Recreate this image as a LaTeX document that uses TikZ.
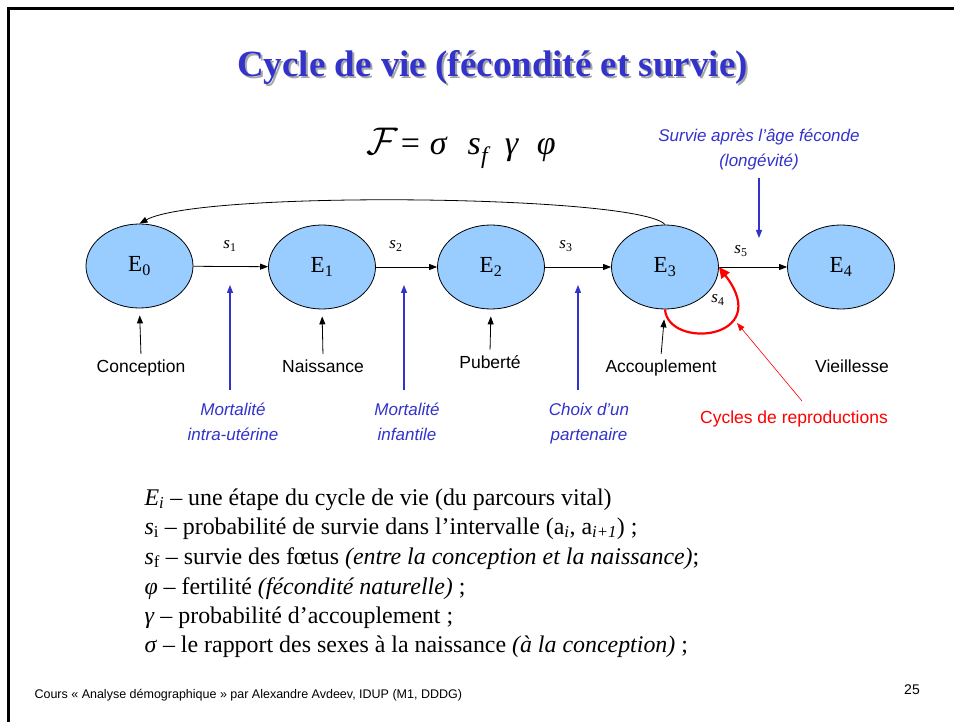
\documentclass[tikz,border=0pt]{standalone}
\usepackage{graphicx}
\usepackage{fontspec}
\setmainfont{Liberation Serif}
\newfontfamily\arial{Liberation Sans}
\usetikzlibrary{arrows.meta,shapes.geometric}
\definecolor{tblue}{RGB}{51,51,204}
\definecolor{efill}{RGB}{153,204,255}
\definecolor{tred}{RGB}{255,0,0}
\newcommand{\ttltext}{Cycle de vie (fécondité et survie)}
\begin{document}
\begin{tikzpicture}[x=1pt,y=-1pt,
  stage/.style={ellipse,draw=black,line width=0.8pt,fill=efill,minimum width=107pt,minimum height=84pt,inner sep=0pt,font=\fontsize{23}{26}\selectfont},
  arr/.style={line width=0.8pt,-{Triangle[length=8pt,width=6pt]}},
  barr/.style={tblue,line width=1.2pt,-{Triangle[length=8pt,width=6pt]}},
  rarr/.style={tred,line width=0.6pt,-{Triangle[length=8pt,width=6pt]}},
  slab/.style={font=\fontsize{17}{20}\selectfont},
  lab/.style={anchor=base,font=\arial\fontsize{17.5}{20}\selectfont},
  blab/.style={tblue,align=center,font=\arial\itshape\fontsize{17}{25}\selectfont},
  item/.style={anchor=base west,font=\fontsize{23.9}{28}\selectfont}]
\useasboundingbox (0,0) rectangle (954,722);
\fill[white] (0,0) rectangle (954,722);
% frame
\draw[line width=3pt] (8.5,722) -- (8.5,8.5) -- (954,8.5);
% title with shadow
\node[font=\bfseries\fontsize{37}{42}\selectfont] (title) at (492.5,68)
  {\makebox[0pt][l]{\hspace{2pt}\raisebox{-2pt}{\textcolor{gray!70}{\ttltext}}}\textcolor{tblue}{\ttltext}};
% formula
\node[anchor=base west,inner sep=0pt,font=\fontsize{34}{38}\selectfont] (formula) at (366,155)
  {\scalebox{1.55}{$\mathcal{F}$}\hspace{3pt}=\hspace{10pt}\textit{σ}\hspace{20pt}\textit{s}\textsubscript{\textit{f}}\hspace{14pt}\textit{γ}\hspace{18pt}\textit{φ}};
% stages
\node[stage] (e0) at (139.5,266) {E\textsubscript{0}};
\node[stage] (e1) at (322,267) {E\textsubscript{1}};
\node[stage] (e2) at (491,267) {E\textsubscript{2}};
\node[stage] (e3) at (665,267) {E\textsubscript{3}};
\node[stage] (e4) at (841,267) {E\textsubscript{4}};
\draw[arr] (e0) -- (e1);
\draw[arr] (e1) -- (e2);
\draw[arr] (e2) -- (e3);
\draw[arr] (e3) -- (e4);
\draw[arr] (e3.north) .. controls (640,195) and (200,190) .. (e0.north);
% s labels
\node[slab] (s1) at (230,246) {\textit{s}\textsubscript{1}};
\node[slab] (s2) at (396,246) {\textit{s}\textsubscript{2}};
\node[slab] (s3) at (566,246) {\textit{s}\textsubscript{3}};
\node[slab] (s5) at (741,251) {\textit{s}\textsubscript{5}};
\node[slab] (s4) at (718,300) {\textit{s}\textsubscript{4}};
% event labels
\node[lab] (conc) at (141,372) {Conception};
\node[lab] (nais) at (323,372) {Naissance};
\node[lab] (pub) at (490,368) {Puberté};
\node[lab] (acc) at (661,372) {Accouplement};
\node[lab] (vie) at (852,372) {Vieillesse};
\draw[arr,shorten >=7pt,shorten <=2pt] (conc.north) -- (e0.south);
\draw[arr,shorten >=7pt,shorten <=2pt] (nais.north) -- (e1.south);
\draw[arr,shorten >=7pt,shorten <=2pt] (pub.north) -- (e2.south);
\draw[arr,shorten >=10pt,shorten <=2pt] (acc.north) -- (e3.south);
% blue labels
\node[blab] (m1) at (233,423) {\strut Mortalité\\\strut intra-utérine};
\node[blab] (m2) at (407,423) {\strut Mortalité\\\strut infantile};
\node[blab] (m3) at (589,423) {\strut Choix d’un\\\strut partenaire};
\node[blab] (sv) at (759,149) {\strut Survie après l’âge féconde\\\strut (longévité)};
\coordinate (m1a) at (230,390); \coordinate (m1b) at (230,285);
\coordinate (m2a) at (404,390); \coordinate (m2b) at (404,285);
\coordinate (m3a) at (578,390); \coordinate (m3b) at (578,285);
\coordinate (sva) at (759,178); \coordinate (svb) at (759,238);
\draw[barr] (m1a) -- (m1b);
\draw[barr] (m2a) -- (m2b);
\draw[barr] (m3a) -- (m3b);
\draw[barr] (sva) -- (svb);
% reproduction loop
\draw[tred,line width=2.2pt,-{Triangle[length=11pt,width=10pt]}] (e3.south) .. controls (668,350) and (775,340) .. (e3.east);
\node[text=tred,font=\arial\fontsize{17.5}{20}\selectfont] (cyc) at (794,419) {Cycles de reproductions};
\coordinate (cyct) at (802,401);
\coordinate (cych) at (737,323);
\draw[rarr] (cyct) -- (cych);
% list
\node[item] (l1) at (141,505) {\textit{E}\textsubscript{\textit{i}} – une étape du cycle de vie (du parcours vital)};
\node[item] (l2) at (141,534) {\textit{s}\textsubscript{i} – probabilité de survie dans l’intervalle (a\textsubscript{\textit{i}}, a\textsubscript{\textit{i+1}}) ;};
\node[item] (l3) at (141,564) {\textit{s}\textsubscript{f} – survie des fœtus \textit{(entre la conception et la naissance)};};
\node[item] (l4) at (141,594) {\textit{φ} – fertilité \textit{(fécondité naturelle)} ;};
\node[item] (l5) at (141,623) {\textit{γ} – probabilité d’accouplement ;};
\node[item] (l6) at (141,652) {\textit{σ} – le rapport des sexes à la naissance \textit{(à la conception)} ;};
% footer
\node[anchor=west,font=\arial\fontsize{12.5}{15}\selectfont] (foot) at (31,695) {Cours « Analyse démographique » par Alexandre Avdeev, IDUP (M1, DDDG)};
\node[font=\arial\fontsize{14}{16}\selectfont] (page) at (912,690) {25};
\end{tikzpicture}
\end{document}
